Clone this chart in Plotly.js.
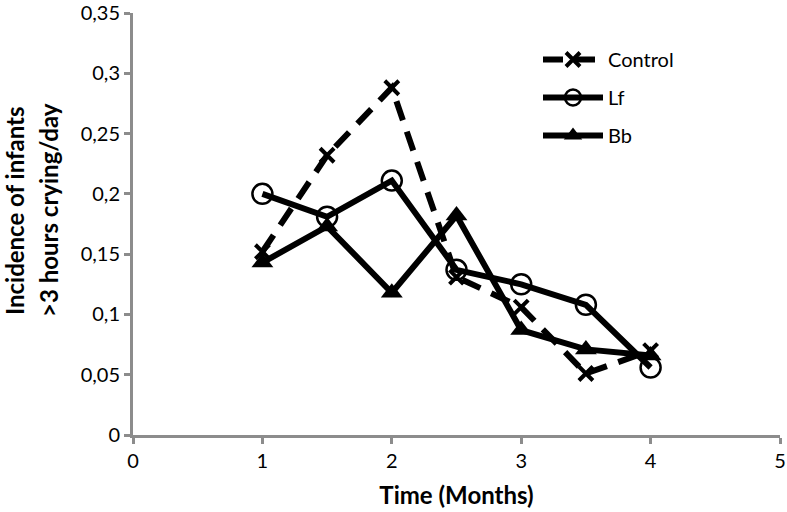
<!DOCTYPE html>
<html>
<head>
<meta charset="utf-8">
<script src="https://cdn.plot.ly/plotly-3.0.1.min.js"></script>
<style>html,body{margin:0;padding:0;background:#fff;}#chart{width:787px;height:512px;}</style>
</head>
<body>
<div id="chart"></div>
<script>
const months = [1, 1.5, 2, 2.5, 3, 3.5, 4];
const control = [0.152, 0.232, 0.288, 0.131, 0.106, 0.051, 0.070];
const lf = [0.200, 0.181, 0.211, 0.137, 0.125, 0.108, 0.056];
const bb = [0.143, 0.173, 0.118, 0.182, 0.087, 0.071, 0.066];
const yTicks = [0, 0.05, 0.1, 0.15, 0.2, 0.25, 0.3, 0.35];
const yTickText = ['0', '0,05', '0,1', '0,15', '0,2', '0,25', '0,3', '0,35'];
const xTicks = [0, 1, 2, 3, 4, 5];
const yTitleLines = ['Incidence of infants', '&gt;3 hours crying/day'];

const fontFam = 'Lato, "Open Sans", sans-serif';
const W = 787, H = 512;
const M = {l: 133, r: 7, t: 13, b: 77};
const plotW = W - M.l - M.r, plotH = H - M.t - M.b;
const titleLineX = [14, 48];   // pixel centres of the two y-title lines

const traces = [
  {x: months, y: control, name: 'Control', legendgroup: 'a', mode: 'lines+markers',
   line: {color: '#000', width: 6, dash: '20px,12px'},
   marker: {symbol: 'x-thin-open', size: 14, color: '#000', line: {color: '#000', width: 4}}},
  {x: months, y: lf, name: 'Lf', legendgroup: 'b', mode: 'lines+markers',
   line: {color: '#000', width: 6},
   marker: {symbol: 'circle-open', size: 20, color: '#000', line: {color: '#000', width: 2.5}}},
  {x: months, y: bb, name: 'Bb', legendgroup: 'c', mode: 'lines+markers',
   line: {color: '#000', width: 6},
   marker: {symbol: 'triangle-up', size: 19, color: '#000'}}
];
const layout = {
  width: W, height: H,
  margin: M,
  paper_bgcolor: '#fff', plot_bgcolor: '#fff',
  font: {family: fontFam, size: 20, color: '#000'},
  showlegend: true,
  legend: {x: (538 - M.l) / plotW, y: (H - M.b - 40) / plotH, xanchor: 'left', yanchor: 'top',
           font: {size: 20, family: fontFam},
           tracegroupgap: 9, itemwidth: 60, bgcolor: 'rgba(0,0,0,0)'},
  xaxis: {range: [0, 5], tickvals: xTicks, ticks: 'outside', ticklen: 6, tickwidth: 3,
          tickcolor: '#8c8c8c', showline: true, linecolor: '#8c8c8c', linewidth: 3,
          showgrid: false, zeroline: false, ticklabeloverflow: 'allow',
          title: {text: '<b>Time (Months)</b>', font: {size: 24, family: fontFam}, standoff: 17}},
  yaxis: {range: [0, 0.35], tickvals: yTicks, ticktext: yTickText, ticks: 'outside', ticklen: 6, tickwidth: 3,
          tickcolor: '#8c8c8c', showline: true, linecolor: '#8c8c8c', linewidth: 3,
          showgrid: false, zeroline: false, ticklabeloverflow: 'allow'},
  annotations: yTitleLines.map((t, i) => ({
    text: '<b>' + t + '</b>', xref: 'paper', yref: 'paper',
    x: (titleLineX[i] - M.l) / plotW, xanchor: 'center',
    y: (H - M.b - 210) / plotH, yanchor: 'middle',
    showarrow: false, textangle: -90, font: {size: 24, family: fontFam, color: '#000'}
  }))
};
Plotly.newPlot('chart', traces, layout, {displayModeBar: false, staticPlot: true});
</script>
</body>
</html>
